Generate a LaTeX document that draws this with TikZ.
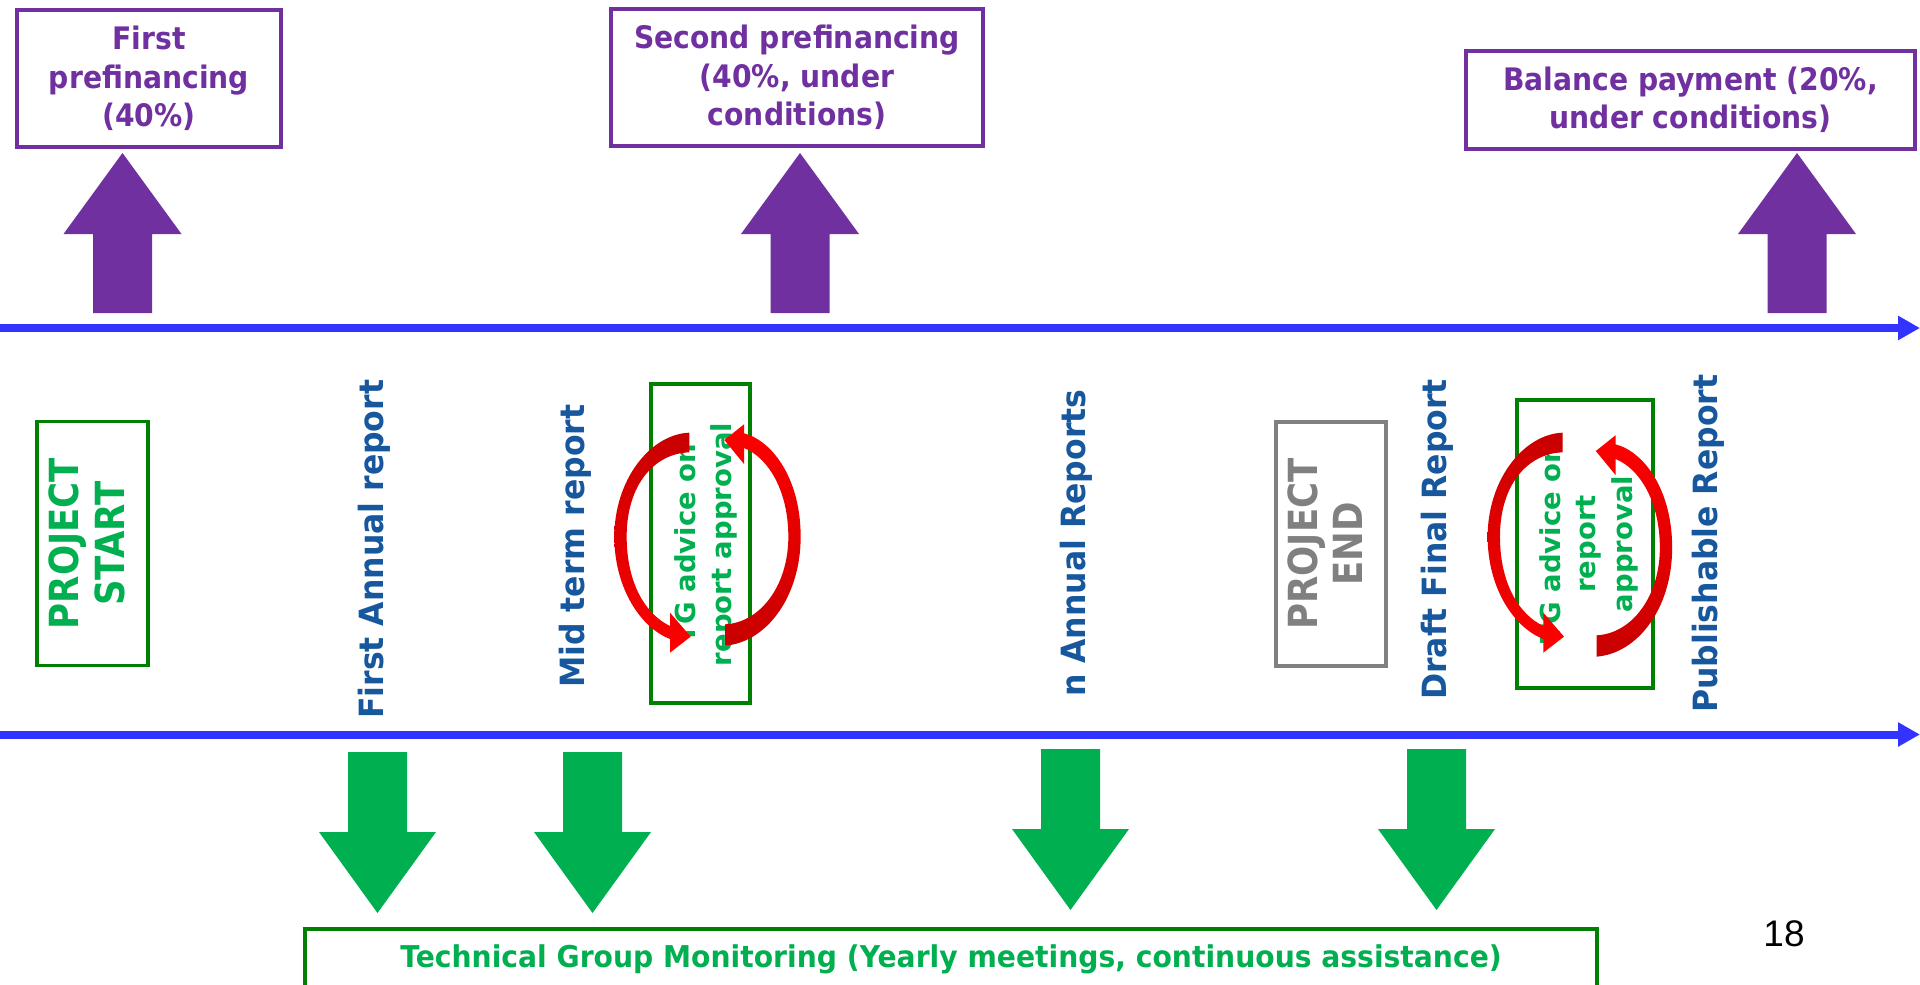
\documentclass[tikz,border=0pt]{standalone}
\usepackage{fontspec}
\usepackage{graphicx}
\setmainfont{DejaVu Sans}
\newfontfamily\purplef{DejaVu Sans}[FakeStretch=0.91]
\newfontfamily\bottomf{DejaVu Sans}[FakeStretch=0.94]
\newfontfamily\numf{Liberation Sans}
\usetikzlibrary{arrows.meta}
\definecolor{purp}{HTML}{7030A0}
\definecolor{tlblue}{HTML}{3333FF}
\definecolor{gborder}{HTML}{008000}
\definecolor{gtext}{HTML}{00B050}
\definecolor{rtext}{HTML}{17579D}
\definecolor{grayc}{HTML}{808080}
\definecolor{redA}{HTML}{FF0000}
\definecolor{redD}{HTML}{C80000}
\newcommand\tallstack[2]{\scalebox{1}[1.13]{\begin{tabular}{@{}c@{}}#1\\#2\end{tabular}}}
\newcommand\tallline[1]{\scalebox{1}[1.06]{#1}}
\tikzset{
  paybox/.style={draw=purp, line width=3.5pt, text=purp, align=center, inner sep=0pt,
    font=\purplef\bfseries\fontsize{31}{38.5}\selectfont},
  timeline/.style={line width=8pt, draw=tlblue, -{Triangle[length=22pt,width=23pt]}},
  vlabel/.style={rotate=90, anchor=base west, inner sep=0pt, text=rtext,
    font=\bfseries\fontsize{31.5}{38}\selectfont},
  milestone/.style={rotate=90, line width=3.5pt, align=center, inner sep=0pt,
    font=\bfseries\fontsize{35.5}{40}\selectfont},
  tgbox/.style={draw=gborder, line width=3.5pt, inner sep=0pt},
  tgtext/.style={rotate=90, anchor=base, inner sep=0pt, text=gtext,
    font=\bfseries\fontsize{27.5}{33}\selectfont},
  monbox/.style={draw=gborder, line width=3.5pt, inner sep=0pt, text=gtext,
    font=\bottomf\bfseries\fontsize{30}{36}\selectfont},
  uparrow/.pic={\fill[purp] (-29.5,0) -- (-29.5,-79) -- (-59,-79) -- (0,-160) -- (59,-79) -- (29.5,-79) -- (29.5,0) -- cycle;},
  downarrow/.pic={\fill[gtext] (-29.5,0) -- (-29.5,80) -- (-58.5,80) -- (0,161) -- (58.5,80) -- (29.5,80) -- (29.5,0) -- cycle;},
  leftcurl/.style={top color=redD, middle color=redA, bottom color=redA},
  rightcurl/.style={top color=redA, middle color=redA, bottom color=redD}
}
\newcommand\drawleftcurl{%
  \shade[leftcurl] (268,188) .. controls (150,193) and (43,330) .. (43,500)
    .. controls (43,652) and (120,772) .. (210,807) -- (210,848) -- (272,800)
    -- (210,728) -- (210,768) .. controls (137,733) and (80,640) .. (80,500)
    .. controls (80,342) and (165,250) .. (268,247) -- cycle;}
\newcommand\drawrightcurl{%
  \shade[rightcurl] (375,827) .. controls (500,817) and (602,680) .. (602,500)
    .. controls (602,330) and (520,213) .. (432,190) -- (432,163) -- (373,210)
    -- (432,282) -- (432,234) .. controls (503,262) and (565,360) .. (565,500)
    .. controls (565,648) and (480,758) .. (375,763) -- cycle;}
\begin{document}
\begin{tikzpicture}[x=1pt,y=-1pt]
\useasboundingbox (0,0) rectangle (1920,985);
\clip (0,0) rectangle (1920,985);
\fill[white] (0,0) rectangle (1920,985);

% payment boxes
\node[paybox, minimum width=264pt, minimum height=137pt] (pay1) at (149,78.5) {First\\prefinancing\\(40\%)};
\node[paybox, minimum width=372pt, minimum height=137pt] (pay2) at (797,77.5) {Second prefinancing\\(40\%, under\\conditions)};
\node[paybox, minimum width=449pt, minimum height=98pt] (pay3) at (1690.5,100) {Balance payment (20\%,\\under conditions)};

% up arrows
\pic at (122.5,313) {uparrow};
\pic at (800,313) {uparrow};
\pic at (1797,313) {uparrow};

% timelines
\coordinate (t1s) at (0,328);
\coordinate (t1e) at (1920,328);
\coordinate (t2s) at (0,734.5);
\coordinate (t2e) at (1920,734.5);
\draw[timeline] (t1s) -- (t1e);
\draw[timeline] (t2s) -- (t2e);

% milestones
\node[milestone, draw=gborder, text=gtext, minimum width=244pt, minimum height=111pt] (pstart) at (92.5,543.5) {\tallstack{PROJECT}{START}};
\node[milestone, draw=grayc, text=grayc, minimum width=244pt, minimum height=110pt] (pend) at (1331,544) {\tallstack{PROJECT}{END}};

% reports
\node[vlabel] (far) at (383,719) {\tallline{First Annual report}};
\node[vlabel] (mtr) at (584,688) {\tallline{Mid term report}};
\node[vlabel] (nar) at (1085,697) {\tallline{n Annual Reports}};
\node[vlabel] (dfr) at (1446,700) {\tallline{Draft Final Report}};
\node[vlabel] (pbr) at (1717,713) {\tallline{Publishable Report}};

% TG boxes
\node[tgbox, minimum width=99pt, minimum height=319pt] (tgA) at (700.5,543.5) {};
\node[tgtext] (tgA1) at (695,543.5) {TG advice on};
\node[tgtext] (tgA2) at (731.5,544.5) {report approval};
\node[tgbox, minimum width=136pt, minimum height=288pt] (tgB) at (1585,544) {};
\node[tgtext] (tgB1) at (1560,543.5) {TG advice on};
\node[tgtext] (tgB2) at (1595,544) {report};
\node[tgtext] (tgB3) at (1632,544) {approval};

% red curved arrows
\begin{scope}[shift={(600,370)}, scale=0.33333]
  \drawleftcurl
  \drawrightcurl
\end{scope}
\begin{scope}[shift={(1473.3,370)}, scale=0.33333]
  \drawleftcurl
\end{scope}
\begin{scope}[shift={(1471.5,381)}, scale=0.33333]
  \drawrightcurl
\end{scope}

% down arrows
\pic at (377.5,752) {downarrow};
\pic at (592.5,752) {downarrow};
\pic at (1070.5,749) {downarrow};
\pic at (1436.5,749) {downarrow};

% monitoring box
\node[monbox, minimum width=1292pt, minimum height=61pt] (mon) at (951,959.5) {Technical Group Monitoring (Yearly meetings, continuous assistance)};

% page number
\node[anchor=base, inner sep=0pt, font=\numf\fontsize{37}{40}\selectfont] (pg) at (1784,946) {18};
\end{tikzpicture}
\end{document}
